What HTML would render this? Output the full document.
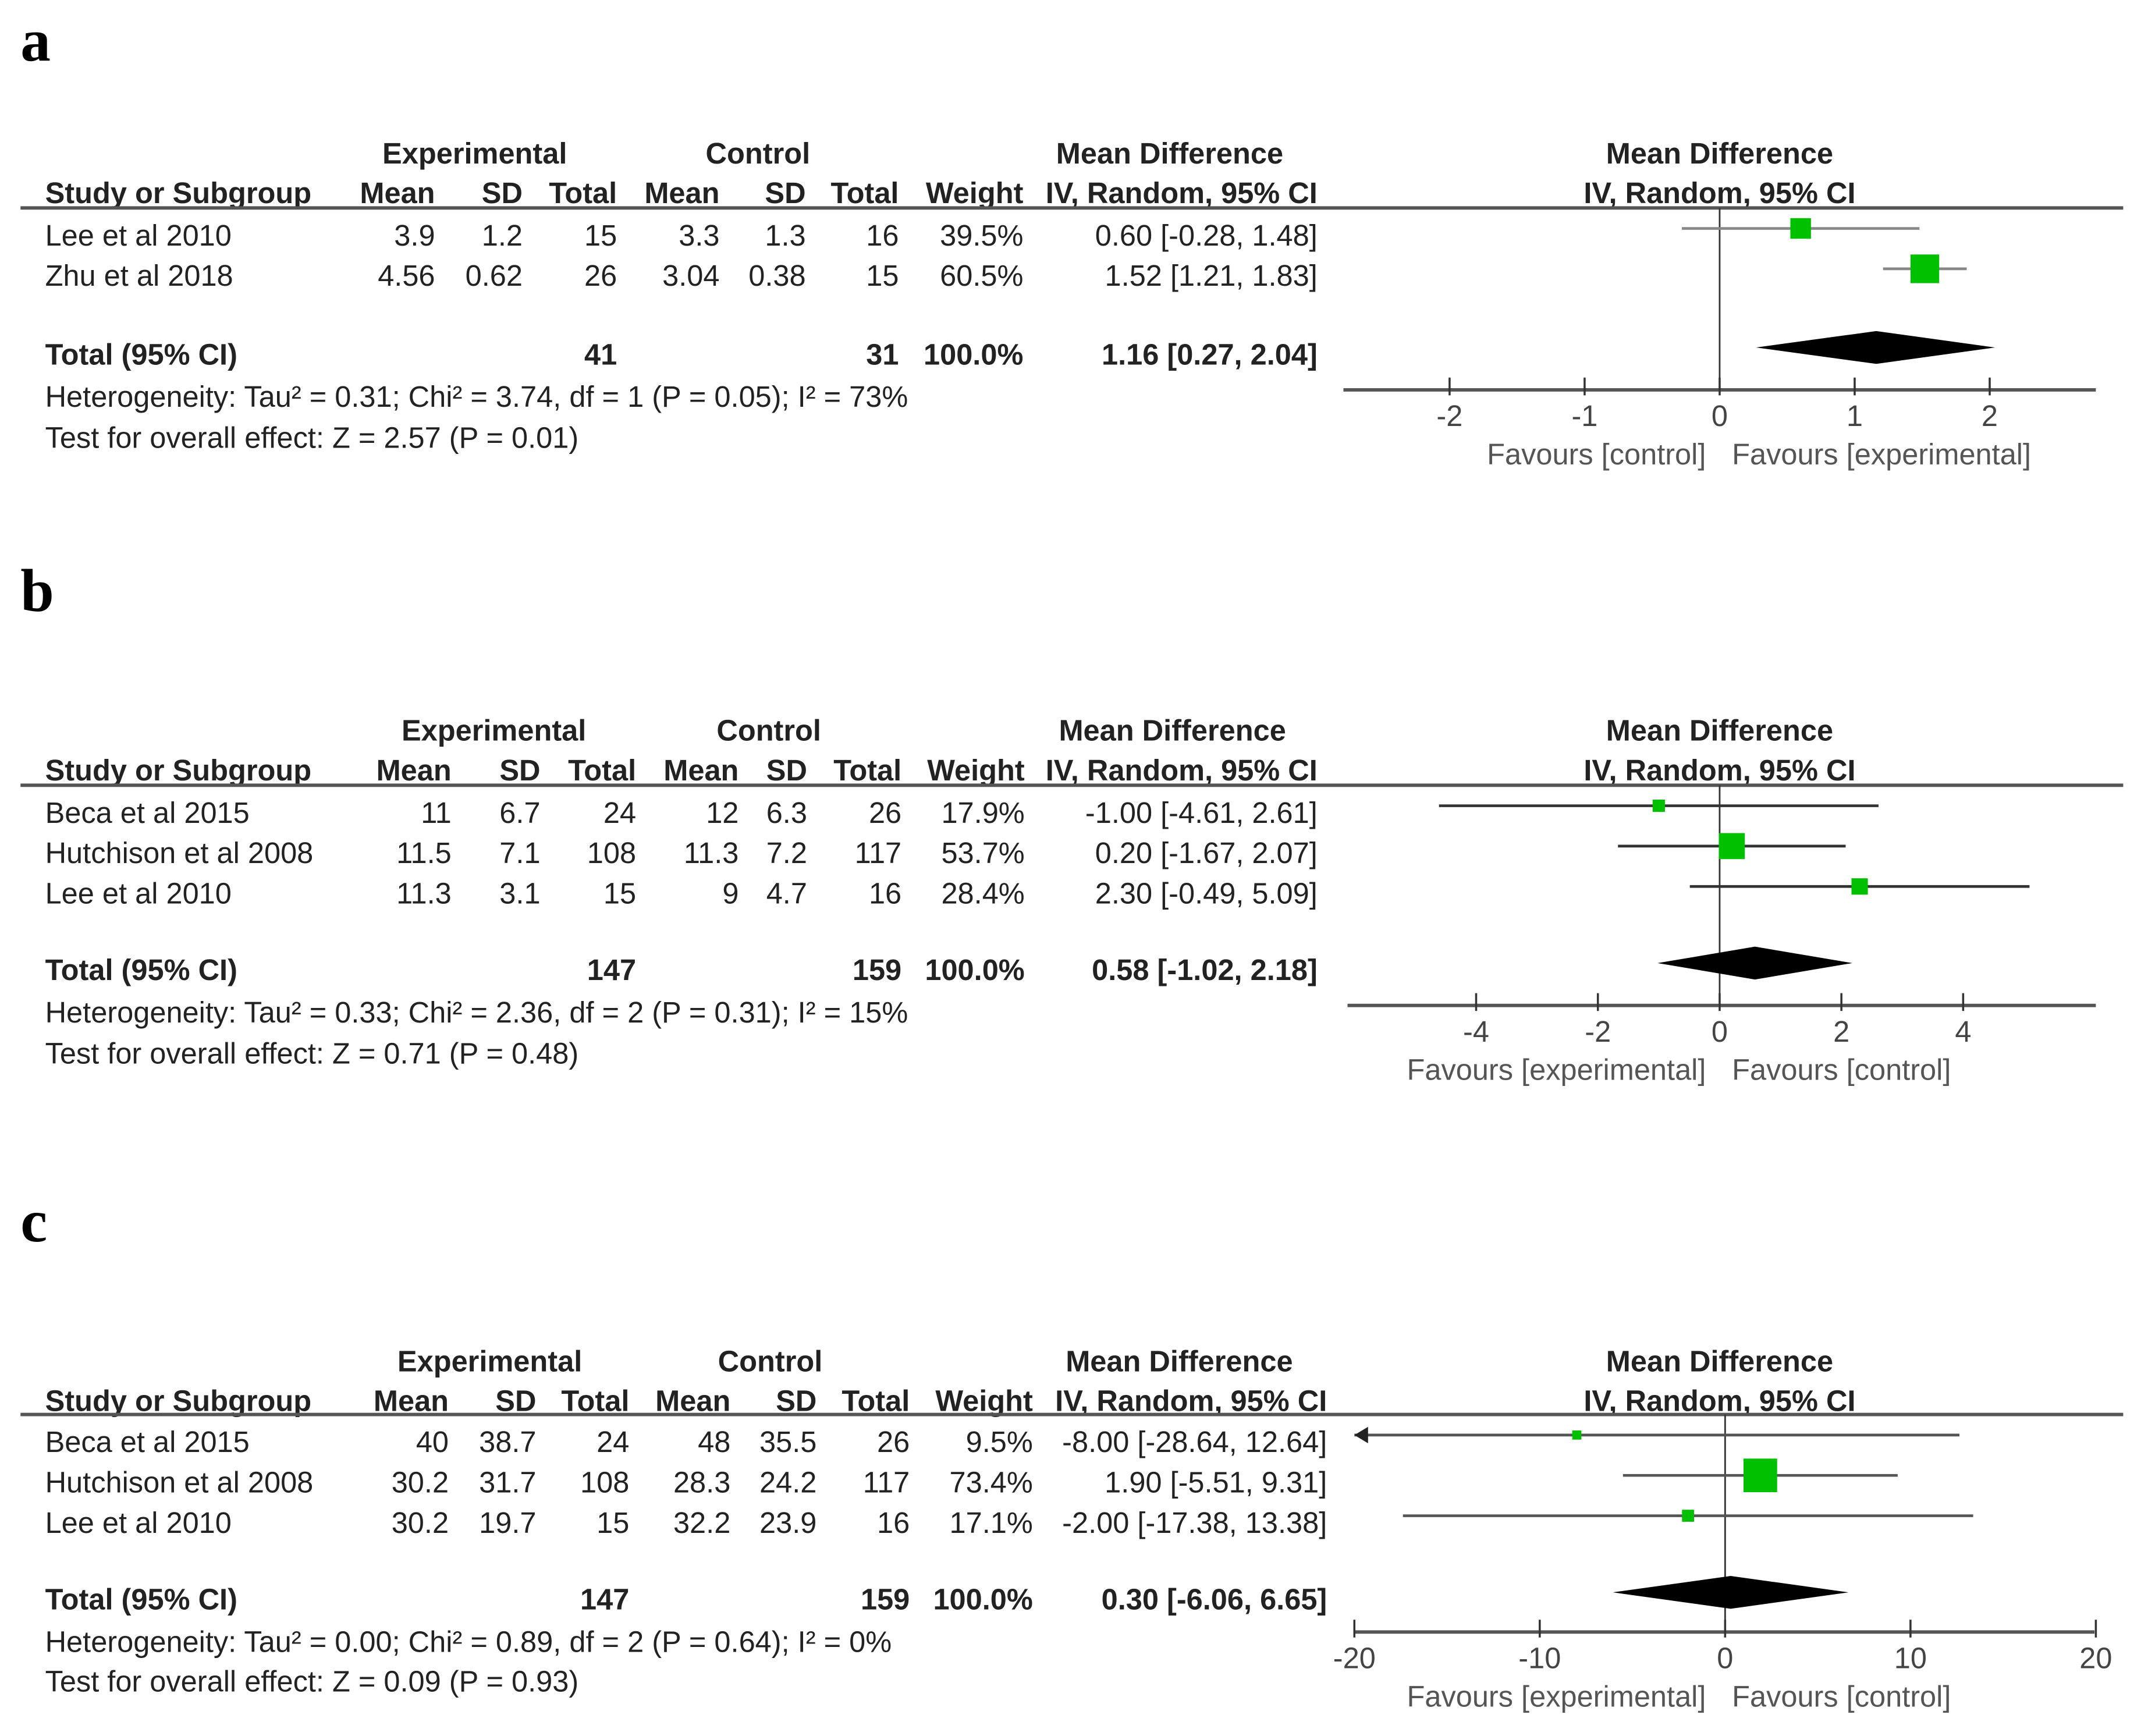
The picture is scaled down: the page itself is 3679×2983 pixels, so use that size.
<!DOCTYPE html>
<html><head><meta charset="utf-8"><style>
html,body{margin:0;padding:0;background:#fff;}
svg{display:block;}
text{font-family:"Liberation Sans",Arial,sans-serif;fill:#222;}
text.serif{font-family:"Liberation Serif","Times New Roman",serif;fill:#000;}
</style></head><body>
<svg id="fig" width="3679" height="2983" viewBox="0 0 1565 1269" preserveAspectRatio="none" xmlns="http://www.w3.org/2000/svg"></svg>
<script>
// ---- Panel a data ----
const aStudies = ["Lee et al 2010", "Zhu et al 2018"];
const aExpMean = ["3.9", "4.56"], aExpSD = ["1.2", "0.62"], aExpTotal = ["15", "26"];
const aCtlMean = ["3.3", "3.04"], aCtlSD = ["1.3", "0.38"], aCtlTotal = ["16", "15"];
const aWeight = [39.5, 60.5];
const aMD = [0.60, 1.52], aLo = [-0.28, 1.21], aHi = [1.48, 1.83];
const aTotal = [1.16, 0.27, 2.04], aTotN = ["41", "31"];
const aTicks = [-2, -1, 0, 1, 2];
const aHet = "Heterogeneity: Tau² = 0.31; Chi² = 3.74, df = 1 (P = 0.05); I² = 73%";
const aTest = "Test for overall effect: Z = 2.57 (P = 0.01)";
// ---- Panel b data ----
const bStudies = ["Beca et al  2015", "Hutchison et al 2008", "Lee et al 2010"];
const bExpMean = ["11", "11.5", "11.3"], bExpSD = ["6.7", "7.1", "3.1"], bExpTotal = ["24", "108", "15"];
const bCtlMean = ["12", "11.3", "9"], bCtlSD = ["6.3", "7.2", "4.7"], bCtlTotal = ["26", "117", "16"];
const bWeight = [17.9, 53.7, 28.4];
const bMD = [-1.00, 0.20, 2.30], bLo = [-4.61, -1.67, -0.49], bHi = [2.61, 2.07, 5.09];
const bTotal = [0.58, -1.02, 2.18], bTotN = ["147", "159"];
const bTicks = [-4, -2, 0, 2, 4];
const bHet = "Heterogeneity: Tau² = 0.33; Chi² = 2.36, df = 2 (P = 0.31); I² = 15%";
const bTest = "Test for overall effect: Z = 0.71 (P = 0.48)";
// ---- Panel c data ----
const cStudies = ["Beca et al  2015", "Hutchison et al 2008", "Lee et al 2010"];
const cExpMean = ["40", "30.2", "30.2"], cExpSD = ["38.7", "31.7", "19.7"], cExpTotal = ["24", "108", "15"];
const cCtlMean = ["48", "28.3", "32.2"], cCtlSD = ["35.5", "24.2", "23.9"], cCtlTotal = ["26", "117", "16"];
const cWeight = [9.5, 73.4, 17.1];
const cMD = [-8.00, 1.90, -2.00], cLo = [-28.64, -5.51, -17.38], cHi = [12.64, 9.31, 13.38];
const cTotal = [0.30, -6.06, 6.65], cTotN = ["147", "159"];
const cTicks = [-20, -10, 0, 10, 20];
const cHet = "Heterogeneity: Tau² = 0.00; Chi² = 0.89, df = 2 (P = 0.64); I² = 0%";
const cTest = "Test for overall effect: Z = 0.09 (P = 0.93)";

const NS = "http://www.w3.org/2000/svg";
const svg = document.getElementById("fig");
const FS = 21.5;
function el(tag, attrs, parent) {
  const e = document.createElementNS(NS, tag);
  for (const k in attrs) e.setAttribute(k, attrs[k]);
  (parent || svg).appendChild(e);
  return e;
}
function txt(s, x, y, anchor, opts, parent, name) {
  const t = el("text", Object.assign({x: x, y: y, "text-anchor": anchor || "start", "font-size": FS, "dominant-baseline": "central"}, opts || {}), parent);
  t.textContent = s;
  
  
  return t;
}

const panels = [
  {id: "a", label: "a", labelY: 30, studies: aStudies, em: aExpMean, es: aExpSD, et: aExpTotal, cm: aCtlMean, cs: aCtlSD, ct: aCtlTotal,
   w: aWeight, md: aMD, lo: aLo, hi: aHi, tot: aTotal, totN: aTotN, ticks: aTicks, het: aHet, test: aTest,
   h1: 112, h2: 141, line: 152, rows0: 172, totY: 259, hetY: 290, testY: 320,
   cols: [318, 382, 451, 526, 589, 657, 748, 963], expC: 347, ctlC: 554, mdC: 855,
   zero: 1257, unit: 98.7, axisY: 285, axL: 982, axR: 1532, diam: 12, lineCol: "#888",
   fav: ["Favours [control]", "Favours [experimental]"]},
  {id: "b", label: "b", labelY: 432, studies: bStudies, em: bExpMean, es: bExpSD, et: bExpTotal, cm: bCtlMean, cs: bCtlSD, ct: bCtlTotal,
   w: bWeight, md: bMD, lo: bLo, hi: bHi, tot: bTotal, totN: bTotN, ticks: bTicks, het: bHet, test: bTest,
   h1: 534, h2: 563, line: 574, rows0: 594, totY: 709, hetY: 740, testY: 770,
   cols: [330, 395, 465, 540, 590, 659, 749, 963], expC: 361, ctlC: 562, mdC: 857,
   zero: 1257, unit: 44.5, axisY: 735, axL: 985, axR: 1532, diam: 12, lineCol: "#333",
   fav: ["Favours [experimental]", "Favours [control]"]},
  {id: "c", label: "c", labelY: 893, studies: cStudies, em: cExpMean, es: cExpSD, et: cExpTotal, cm: cCtlMean, cs: cCtlSD, ct: cCtlTotal,
   w: cWeight, md: cMD, lo: cLo, hi: cHi, tot: cTotal, totN: cTotN, ticks: cTicks, het: cHet, test: cTest,
   h1: 995, h2: 1024, line: 1034, rows0: 1054, totY: 1169, hetY: 1200, testY: 1229,
   cols: [328, 392, 460, 534, 597, 665, 755, 970], expC: 358, ctlC: 563, mdC: 862,
   zero: 1261, unit: 13.55, axisY: 1193, axL: 990, axR: 1531, diam: 12, lineCol: "#555",
   fav: ["Favours [experimental]", "Favours [control]"]}
];

panels.forEach(function (p) {
  const g = el("g", {});
  
  
  txt(p.label, 15, p.labelY, "start", {"font-size": 44, "font-weight": "bold", "class": "serif"}, g, 'panel-label-' + p.id);
  const B = {"font-weight": "bold"};
  txt("Experimental", p.expC, p.h1, "middle", B, g, 'experimental-header');
  txt("Control", p.ctlC, p.h1, "middle", B, g, 'control-header');
  txt("Mean Difference", p.mdC, p.h1, "middle", B, g, 'mean-difference-header');
  txt("Mean Difference", 1257, p.h1, "middle", B, g, 'plot-header');
  txt("IV, Random, 95% CI", 1257, p.h2, "middle", B, g, 'plot-subheader');
  txt("Study or Subgroup", 33, p.h2, "start", B, g, 'study-column-header');
  const heads = ["Mean", "SD", "Total", "Mean", "SD", "Total", "Weight", "IV, Random, 95% CI"];
  heads.forEach(function (h, i) { txt(h, p.cols[i], p.h2, "end", B, g, 'column-header'); });
  const hl = el("line", {x1: 15, x2: 1552, y1: p.line, y2: p.line, stroke: "#555", "stroke-width": 2.5}, g);
  
  

  const X = function (v) { return p.zero + v * p.unit; };
  const zl = el("line", {x1: X(0), x2: X(0), y1: p.line, y2: p.axisY, stroke: "#333", "stroke-width": 1.2}, g);
  
  

  p.studies.forEach(function (s, i) {
    const y = p.rows0 + i * 29.5;
    txt(s, 33, y, "start", {}, g, 'study-name');
    const vals = [p.em[i], p.es[i], p.et[i], p.cm[i], p.cs[i], p.ct[i], p.w[i].toFixed(1) + "%",
      p.md[i].toFixed(2) + " [" + p.lo[i].toFixed(2) + ", " + p.hi[i].toFixed(2) + "]"];
    vals.forEach(function (v, j) { txt(v, p.cols[j], y, "end", {}, g, 'cell-value'); });
    const yy = y - 5;
    let lx = X(p.lo[i]), rx = X(p.hi[i]);
    let arrow = false;
    if (lx < p.axL) { lx = p.axL; arrow = true; }
    if (rx > p.axR) rx = p.axR;
    const ci = el("line", {x1: lx, x2: rx, y1: yy, y2: yy, stroke: p.lineCol, "stroke-width": 2}, g);
    
    
    if (arrow) {
      const ar = el("polygon", {points: (lx) + "," + yy + " " + (lx + 10) + "," + (yy - 6) + " " + (lx + 10) + "," + (yy + 6), fill: "#222"}, g);
      
      
    }
    const sz = 4 + 0.28 * p.w[i];
    const sq = el("rect", {x: X(p.md[i]) - sz / 2, y: yy - sz / 2, width: sz, height: sz, fill: "#00c000"}, g);
    
    
  });
  txt("Total (95% CI)", 33, p.totY, "start", B, g, 'total-label');
  txt(p.totN[0], p.cols[2], p.totY, "end", B, g, 'total-exp-n');
  txt(p.totN[1], p.cols[5], p.totY, "end", B, g, 'total-ctl-n');
  txt("100.0%", p.cols[6], p.totY, "end", B, g, 'total-weight');
  txt(p.tot[0].toFixed(2) + " [" + p.tot[1].toFixed(2) + ", " + p.tot[2].toFixed(2) + "]", p.cols[7], p.totY, "end", B, g, 'total-effect');
  const dy = p.totY - 5;
  const dm = el("polygon", {points: X(p.tot[1]) + "," + dy + " " + X(p.tot[0]) + "," + (dy - p.diam) + " " + X(p.tot[2]) + "," + dy + " " + X(p.tot[0]) + "," + (dy + p.diam), fill: "#000"}, g);
  
  
  txt(p.het, 33, p.hetY, "start", {}, g, 'heterogeneity-text');
  txt(p.test, 33, p.testY, "start", {}, g, 'overall-effect-text');
  const ax = el("line", {x1: p.axL, x2: p.axR, y1: p.axisY, y2: p.axisY, stroke: "#555", "stroke-width": 2.5}, g);
  
  
  p.ticks.forEach(function (t) {
    const tk = el("line", {x1: X(t), x2: X(t), y1: p.axisY - 9, y2: p.axisY + 4, stroke: "#333", "stroke-width": 1.5}, g);
    
    
    txt(String(t), X(t), p.axisY + 19, "middle", {style: "fill:#444"}, g, 'x-tick-label');
  });
  txt(p.fav[0], 1247, p.axisY + 47, "end", {style: "fill:#555"}, g, 'favours-left');
  txt(p.fav[1], 1266, p.axisY + 47, "start", {style: "fill:#555"}, g, 'favours-right');
});
</script>
</body></html>
